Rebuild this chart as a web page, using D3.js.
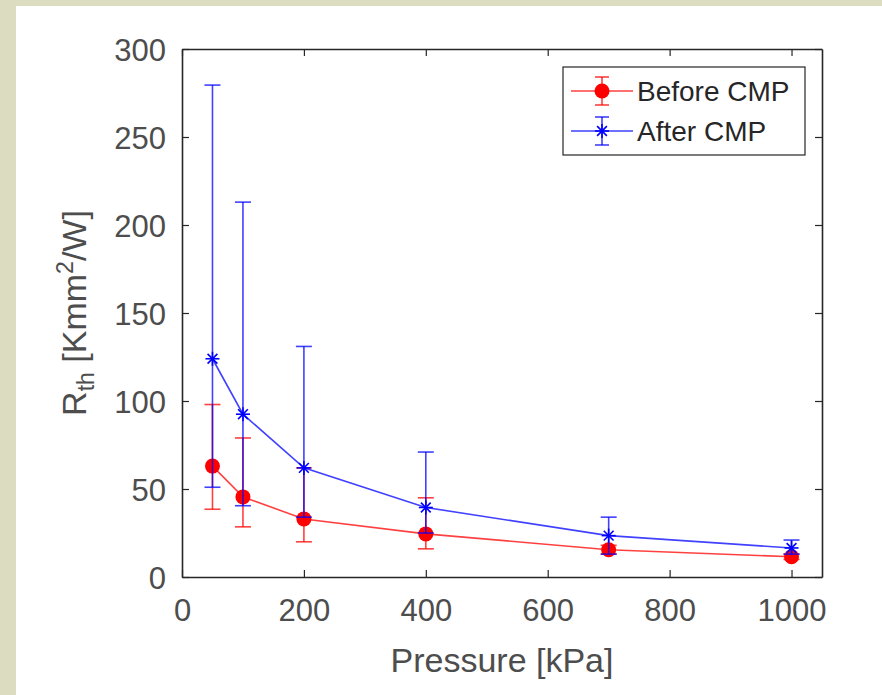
<!DOCTYPE html>
<html>
<head>
<meta charset="utf-8">
<script src="https://cdn.jsdelivr.net/npm/d3@7"></script>
<style>
  body { margin: 0; background: #dcdcc0; }
  svg { display: block; font-family: 'Liberation Sans', Arial, sans-serif; }
</style>
</head>
<body>
<script>
const width = 882,
        height = 695

// data
const pressure = [50, 100, 200, 400, 700, 1000]
const beforeVal = [63, 45.5, 33, 24.5, 15.5, 11.5]
const beforeLow = [38.5, 28.5, 20, 16, 13, 10]
const beforeHigh = [98, 79, 62, 45, 18, 13]
const afterVal = [124, 92.5, 62, 39.5, 23.5, 16.5]
const afterLow = [51, 40.5, 34, 25, 13, 13]
const afterHigh = [279.5, 213, 131, 71, 34, 21]
const xTicks = [0, 200, 400, 600, 800, 1000]
const yTicks = [0, 50, 100, 150, 200, 250, 300]

const series = [
    { name: 'Before CMP', color: '#ff0000', marker: 'dot',
      values: pressure.map((p, i) => ({ x: p, y: beforeVal[i], lo: beforeLow[i], hi: beforeHigh[i] })) },
    { name: 'After CMP', color: '#0000ff', marker: 'star',
      values: pressure.map((p, i) => ({ x: p, y: afterVal[i], lo: afterLow[i], hi: afterHigh[i] })) }
]

const margin = { left: 182, right: 60, top: 49, bottom: 118 }

const svg = d3.select('body').append('svg')
    .attr('width', width)
    .attr('height', height)

// white panel over the beige page
svg.append('rect')
    .attr('x', 16).attr('y', 6)
    .attr('width', width - 16).attr('height', height - 6)
    .attr('fill', '#ffffff')

const x = d3.scaleLinear()
    .domain([0, 1050])
    .range([margin.left, width - margin.right])

const y = d3.scaleLinear()
    .domain([0, 300])
    .range([height - margin.bottom, margin.top])

const axisColor = '#262626'
const tickColor = '#4d4d4d'

// axes (ticks pointing inwards, box on)
const gx = svg.append('g')
    .attr('transform', `translate(0,${y(0)})`)
    .call(d3.axisBottom(x).tickValues(xTicks).tickFormat(d3.format('d')).tickSize(-7).tickPadding(22).tickSizeOuter(0))
const gxTop = svg.append('g')
    .attr('transform', `translate(0,${y(300)})`)
    .call(d3.axisTop(x).tickValues(xTicks).tickSize(-7).tickFormat('').tickSizeOuter(0))
const gy = svg.append('g')
    .attr('transform', `translate(${x(0)},0)`)
    .call(d3.axisLeft(y).tickValues(yTicks).tickFormat(d3.format('d')).tickSize(-7).tickPadding(16).tickSizeOuter(0))
const gyRight = svg.append('g')
    .attr('transform', `translate(${x(1050)},0)`)
    .call(d3.axisRight(y).tickValues(yTicks).tickSize(-7).tickFormat('').tickSizeOuter(0))

;[gx, gxTop, gy, gyRight].forEach(g => {
    g.select('.domain').attr('stroke', axisColor).attr('stroke-width', 1.6)
    g.selectAll('.tick line').attr('stroke', axisColor).attr('stroke-width', 1.2)
    g.selectAll('.tick text')
        .attr('fill', tickColor)
        .style('font-size', '31px')
})
gx.selectAll('.tick text').attr('dy', '0.71em')
gy.selectAll('.tick text').attr('dy', '0.36em')

// axis labels
svg.append('text')
    .attr('x', x(525))
    .attr('y', 672)
    .attr('text-anchor', 'middle')
    .attr('fill', tickColor)
    .style('font-size', '34px')
    .text('Pressure [kPa]')

const ylab = svg.append('text')
    .attr('transform', `translate(86,${y(150)}) rotate(-90)`)
    .attr('text-anchor', 'middle')
    .attr('fill', tickColor)
    .style('font-size', '34px')
ylab.append('tspan').text('R')
ylab.append('tspan').attr('dy', 8).style('font-size', '23px').text('th')
ylab.append('tspan').attr('dy', -8).text(' [Kmm')
ylab.append('tspan').attr('dy', -13).style('font-size', '23px').text('2')
ylab.append('tspan').attr('dy', 13).text('/W]')

// lines, error bars and markers
const line = d3.line().x(d => x(d.x)).y(d => y(d.y))
const capW = 8

function drawMarker(g, type, color, cx, cy) {
    if (type === 'dot') {
        g.append('circle')
            .attr('cx', cx).attr('cy', cy).attr('r', 7.5)
            .attr('fill', color)
    } else {
        const r = 7
        const star = [[0, r], [r, 0], [r * 0.7, r * 0.7], [r * 0.7, -r * 0.7]]
        star.forEach(s => {
            g.append('line')
                .attr('x1', cx - s[0]).attr('y1', cy - s[1])
                .attr('x2', cx + s[0]).attr('y2', cy + s[1])
                .attr('stroke', color).attr('stroke-width', 1.6)
        })
    }
}

series.forEach(s => {
    const g = svg.append('g')
    g.append('path')
        .datum(s.values)
        .attr('d', line)
        .attr('fill', 'none')
        .attr('stroke', s.color)
        .attr('stroke-opacity', 0.75)
        .attr('stroke-width', 1.6)

    s.values.forEach(d => {
        g.append('line')
            .attr('x1', x(d.x)).attr('x2', x(d.x))
            .attr('y1', y(d.lo)).attr('y2', y(d.hi))
            .attr('stroke', s.color).attr('stroke-opacity', 0.75).attr('stroke-width', 1.6)
        ;[d.lo, d.hi].forEach(v => {
            g.append('line')
                .attr('x1', x(d.x) - capW).attr('x2', x(d.x) + capW)
                .attr('y1', y(v)).attr('y2', y(v))
                .attr('stroke', s.color).attr('stroke-opacity', 0.75).attr('stroke-width', 1.6)
        })
        drawMarker(g, s.marker, s.color, x(d.x), y(d.y))
    })
})

// legend
const legend = svg.append('g').attr('transform', 'translate(563,67)')
legend.append('rect')
    .attr('width', 242).attr('height', 88)
    .attr('fill', '#ffffff')
    .attr('stroke', axisColor).attr('stroke-width', 1.2)

series.forEach((s, i) => {
    const ly = 24 + i * 40
    const row = legend.append('g')
    row.append('line')
        .attr('x1', 8).attr('x2', 70).attr('y1', ly).attr('y2', ly)
        .attr('stroke', s.color).attr('stroke-opacity', 0.75).attr('stroke-width', 1.6)
    row.append('line')
        .attr('x1', 39).attr('x2', 39).attr('y1', ly - 14).attr('y2', ly + 14)
        .attr('stroke', s.color).attr('stroke-opacity', 0.75).attr('stroke-width', 1.6)
    ;[ly - 14, ly + 14].forEach(v => {
        row.append('line')
            .attr('x1', 39 - 7).attr('x2', 39 + 7).attr('y1', v).attr('y2', v)
            .attr('stroke', s.color).attr('stroke-opacity', 0.75).attr('stroke-width', 1.6)
    })
    drawMarker(row, s.marker, s.color, 39, ly)
    row.append('text')
        .attr('x', 74).attr('y', ly)
        .attr('dy', '0.36em')
        .attr('fill', axisColor)
        .style('font-size', '28px')
        .text(s.name)
})
</script>
</body>
</html>
